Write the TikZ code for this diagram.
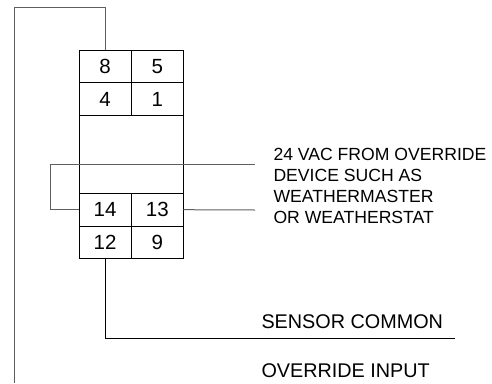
\documentclass[tikz,border=0pt]{standalone}
\usepackage{fontspec}
\setmainfont{Liberation Sans}
\usetikzlibrary{positioning}
\definecolor{wiregray}{RGB}{95, 95, 95}
\tikzset{
  cell/.style={draw=black, line width=0.8pt, minimum width=52.25pt, minimum height=32.7pt, inner sep=0pt, outer sep=0pt, font=\fontsize{20.5}{20.5}\selectfont},
  midblock/.style={draw=black, line width=0.8pt, minimum width=104.5pt, minimum height=78pt, inner sep=0pt, outer sep=0pt},
  wire/.style={draw=wiregray, line width=1pt},
  note/.style={inner sep=0pt, outer sep=0pt, align=left, anchor=base west}
}
\begin{document}
\begin{tikzpicture}[x=1pt, y=-1pt, node distance=0pt]
  \useasboundingbox (0, 0) rectangle (492, 383);

  % Terminal block
  \node[cell] (t8) at (105.1, 66.3) {8};
  \node[cell, right=of t8] (t5) {5};
  \node[cell, below=of t8] (t4) {4};
  \node[cell, right=of t4] (t1) {1};
  \node[midblock, below=of t4.south west, anchor=north west] (mid) {};
  \node[cell, below=of mid.south west, anchor=north west] (t14) {14};
  \node[cell, right=of t14] (t13) {13};
  \node[cell, below=of t14] (t12) {12};
  \node[cell, right=of t12] (t9) {9};

  % Wire ends
  \coordinate (topleft) at (14, 7);
  \coordinate (botleft) at (14, 383);
  \coordinate (loopleft) at (50, 164);
  \coordinate (loopright) at (255, 164);
  \coordinate (endvac) at (255, 210);
  \coordinate (endcommon) at (455, 338);

  % Wires
  \draw[wire] (t8.north) |- (topleft) -- (botleft);
  \draw[wire] (t14.west) -| (loopleft) -- (loopright);
  \draw[wire] (t13.east) -- (endvac);
  \draw[wire, draw=black] (t12.south) |- (endcommon);

  % Labels
  \node[note, font=\fontsize{17.6}{20.7}\selectfont] (vac) at (273.5, 223) {24 VAC FROM OVERRIDE\\DEVICE SUCH AS\\WEATHERMASTER\\OR WEATHERSTAT};
  \node[note, font=\fontsize{19.8}{20}\selectfont] (common) at (261.5, 328) {SENSOR COMMON};
  \node[note, font=\fontsize{19.8}{20}\selectfont] (input) at (261.5, 377) {OVERRIDE INPUT};
\end{tikzpicture}
\end{document}
